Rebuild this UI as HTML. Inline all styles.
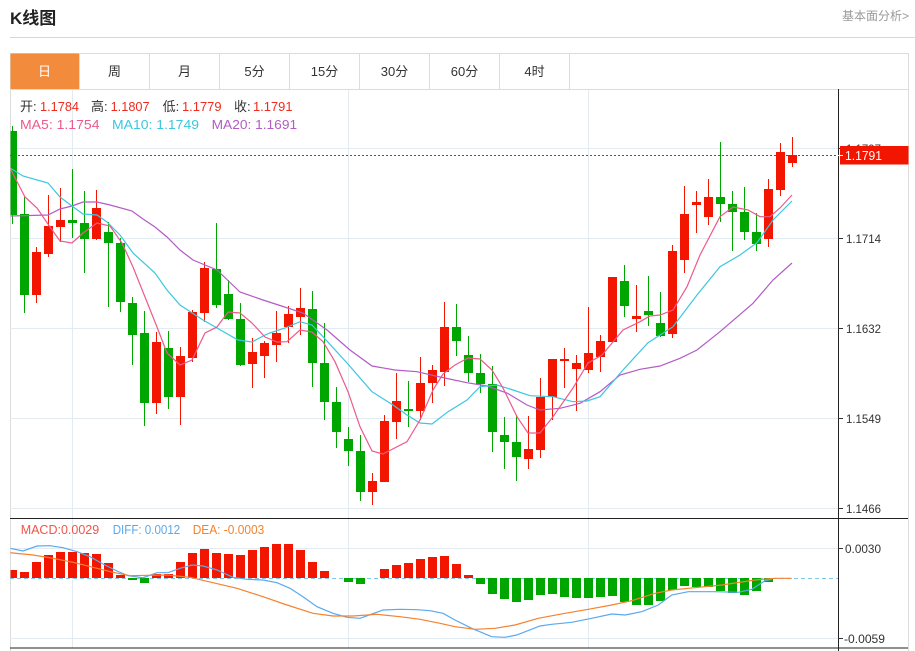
<!DOCTYPE html>
<html><head><meta charset="utf-8"><style>
html,body{margin:0;padding:0;background:#fff;width:915px;height:651px;overflow:hidden}
svg{display:block}
text{font-family:"Liberation Sans","Noto Sans CJK SC",sans-serif}
</style></head><body>
<svg width="915" height="651" viewBox="0 0 915 651" xmlns="http://www.w3.org/2000/svg">
<defs><clipPath id="cm"><rect x="10.5" y="90" width="828" height="428"/></clipPath>
<clipPath id="cd"><rect x="10.5" y="519" width="828" height="129"/></clipPath></defs>
<rect width="915" height="651" fill="#fff"/>
<!-- header -->
<text x="10" y="24" font-size="17" font-weight="bold" fill="#222">K线图</text>
<text x="842" y="20" font-size="12" fill="#999" textLength="67" lengthAdjust="spacingAndGlyphs">基本面分析&gt;</text>
<line x1="10" y1="37.5" x2="915" y2="37.5" stroke="#d8d8d8" stroke-width="1"/>
<!-- container -->
<rect x="10.5" y="53.5" width="898" height="620" fill="none" stroke="#dcdcdc"/>
<rect x="10.5" y="53.5" width="69" height="36" fill="#f28c3c"/>
<line x1="10" y1="89.5" x2="908" y2="89.5" stroke="#dcdcdc"/>
<g stroke="#dcdcdc"><line x1="79.5" y1="53" x2="79.5" y2="89"/><line x1="149.5" y1="53" x2="149.5" y2="89"/><line x1="219.5" y1="53" x2="219.5" y2="89"/><line x1="289.5" y1="53" x2="289.5" y2="89"/><line x1="359.5" y1="53" x2="359.5" y2="89"/><line x1="429.5" y1="53" x2="429.5" y2="89"/><line x1="499.5" y1="53" x2="499.5" y2="89"/><line x1="569.5" y1="53" x2="569.5" y2="89"/></g>
<g font-size="13" fill="#333" text-anchor="middle">
<text x="44.5" y="76" fill="#fff">日</text><text x="114.5" y="76">周</text><text x="184.5" y="76">月</text><text x="254.5" y="76">5分</text><text x="324.5" y="76">15分</text><text x="394.5" y="76">30分</text><text x="464.5" y="76">60分</text><text x="534.5" y="76">4时</text></g>
<!-- grid -->
<g stroke="#e3ebf2" stroke-width="1">
<line x1="10" y1="148.5" x2="838" y2="148.5"/><line x1="10" y1="238.5" x2="838" y2="238.5"/><line x1="10" y1="328.5" x2="838" y2="328.5"/><line x1="10" y1="418.5" x2="838" y2="418.5"/><line x1="10" y1="508.5" x2="838" y2="508.5"/>
<line x1="10" y1="548.5" x2="838" y2="548.5"/><line x1="10" y1="638.5" x2="838" y2="638.5"/>
<line x1="72.5" y1="90" x2="72.5" y2="648"/><line x1="348.5" y1="90" x2="348.5" y2="648"/><line x1="588.5" y1="90" x2="588.5" y2="648"/>
</g>
<!-- legend -->
<g font-size="13">
<text x="20" y="111" fill="#333">开:</text><text x="40" y="111" fill="#f02b1e" textLength="39" lengthAdjust="spacingAndGlyphs">1.1784</text>
<text x="91" y="111" fill="#333">高:</text><text x="110.6" y="111" fill="#f02b1e" textLength="39" lengthAdjust="spacingAndGlyphs">1.1807</text>
<text x="162.6" y="111" fill="#333">低:</text><text x="182" y="111" fill="#f02b1e" textLength="39.5" lengthAdjust="spacingAndGlyphs">1.1779</text>
<text x="234" y="111" fill="#333">收:</text><text x="253" y="111" fill="#f02b1e" textLength="39.5" lengthAdjust="spacingAndGlyphs">1.1791</text>
<text x="20" y="129" fill="#ec5a8b" textLength="79.5" lengthAdjust="spacingAndGlyphs">MA5: 1.1754</text>
<text x="112" y="129" fill="#3cc6e0" textLength="87" lengthAdjust="spacingAndGlyphs">MA10: 1.1749</text>
<text x="211.6" y="129" fill="#b35bc6" textLength="85.5" lengthAdjust="spacingAndGlyphs">MA20: 1.1691</text>
</g>
<!-- price line -->
<line x1="10" y1="155.5" x2="838" y2="155.5" stroke="#f21600" stroke-width="1" stroke-dasharray="2,2"/>
<g clip-path="url(#cm)">
<path fill="none" stroke="#00a600" stroke-width="1" d="M12.5 126V224M24.5 197V313M72.5 169V238M84.5 191V273M108.5 222V307M120.5 238V312M132.5 297V365M144.5 311V426M168.5 331V409M216.5 223V308M228.5 280V320M240.5 303V366M312.5 291V387M324.5 323V420M336.5 387V448M348.5 427V466M360.5 435V501M408.5 381V427M456.5 304V356M468.5 336V382M480.5 354V393M492.5 366V452M504.5 417V469M516.5 415V481M624.5 265V317M648.5 276V326M660.5 292V337M720.5 142V222M732.5 191V251M744.5 187V240M756.5 213V251"/>
<path fill="#00a600" d="M8 131h9v84h-9zM20 214h9v81h-9zM68 220h9v3h-9zM80 223h9v16h-9zM104 232h9v11h-9zM116 243h9v59h-9zM128 303h9v32h-9zM140 333h9v70h-9zM164 348h9v49h-9zM212 269h9v36h-9zM224 294h9v25h-9zM236 319h9v46h-9zM308 309h9v54h-9zM320 363h9v39h-9zM332 402h9v30h-9zM344 439h9v12h-9zM356 451h9v41h-9zM404 409h9v2h-9zM452 327h9v14h-9zM464 355h9v18h-9zM476 373h9v11h-9zM488 384h9v48h-9zM500 435h9v7h-9zM512 442h9v15h-9zM620 281h9v25h-9zM644 311h9v4h-9zM656 323h9v13h-9zM716 197h9v7h-9zM728 204h9v8h-9zM740 212h9v20h-9zM752 232h9v12h-9z"/>
<path fill="none" stroke="#f21600" stroke-width="1" d="M36.5 247V303M48.5 195V257M60.5 188V242M96.5 190V240M156.5 332V414M180.5 347V425M192.5 310V362M204.5 262V322M252.5 338V388M264.5 341V378M276.5 311V362M288.5 306V343M300.5 288V335M372.5 473V505M384.5 415V482M396.5 373V439M420.5 357V420M432.5 365V403M444.5 302V386M528.5 416V469M540.5 378V458M552.5 359V420M564.5 348V388M576.5 355V411M588.5 307V373M600.5 335V372M612.5 277V342M636.5 285V332M672.5 245V338M684.5 186V273M696.5 191V233M708.5 179V225M768.5 179V247M780.5 143V196M792.5 137V167"/>
<path fill="#f21600" d="M32 252h9v43h-9zM44 226h9v28h-9zM56 220h9v7h-9zM92 208h9v31h-9zM152 342h9v61h-9zM176 356h9v41h-9zM188 312h9v46h-9zM200 268h9v45h-9zM248 352h9v12h-9zM260 343h9v13h-9zM272 333h9v12h-9zM284 314h9v13h-9zM296 308h9v9h-9zM368 481h9v11h-9zM380 421h9v61h-9zM392 401h9v21h-9zM416 383h9v28h-9zM428 370h9v13h-9zM440 327h9v45h-9zM524 449h9v10h-9zM536 397h9v53h-9zM548 359h9v38h-9zM560 359h9v2h-9zM572 363h9v6h-9zM584 353h9v17h-9zM596 341h9v16h-9zM608 277h9v65h-9zM632 316h9v3h-9zM668 251h9v83h-9zM680 214h9v46h-9zM692 202h9v3h-9zM704 197h9v20h-9zM764 189h9v50h-9zM776 152h9v38h-9zM788 155h9v8h-9z"/>
<polyline fill="none" stroke="#b35bc6" stroke-width="1.2" points="10,216 48,215 60,209 72,206 83,202 97,202 110,205 132,211 143,219 155,227 167,237 180,250 193,260 217,270 240,292 263,300 280,305.5 303,313 327,330 350,350 372,366 395,370 417,371.7 440,377 467,382.7 487,386 507,393 527,405 540,410 560,408.3 580,403.3 600,391.7 620,375 640,369.3 660,366 680,358.3 697,350 720,331.7 753,303.3 773,280 792,263"/>
<polyline fill="none" stroke="#3cc6e0" stroke-width="1.2" points="10,168 23,176 48,183 60,197 72,206 83,214 97,215 107,222 120,235 133,253 155,273 167,290 180,305 203,320 217,328 238,340 252,342 265,335 270,333 285,328 300,321.7 312,325 323,336.7 347,363 372,391.7 393,405 407,415 420,423 432,424 448,411.7 467,400 480,386.7 497,385 513,390 530,395.7 553,396.7 573,401.7 587,401 600,396.7 623,370 648,342.7 673,326.7 697,295 720,266.7 740,255 757,242.7 773,220 792,201"/>
<polyline fill="none" stroke="#ec5a8b" stroke-width="1.2" points="10,168 25,197 37,208 50,227 60,241 72,243 83,233 97,223 110,226 122,243 133,267 145,297 157,327 167,353 180,365 192,360 205,333 217,327 228,312 240,313 252,323 265,337 277,342 287,341.7 300,330 312,332 323,341.7 335,361.7 348,391.7 360,426.7 372,451 383,454 407,441.7 420,420 433,390 443,374 455,365 468,358 480,359 492,370 503,388 517,416.7 528,433 540,433 553,416.7 573,388 588,363 602,355 623,330 640,321.7 650,316 660,315 673,310 687,286.7 700,255 720,216.7 733,207 748,210 760,216.7 770,216.7 780,208 792,195"/>
</g>
<!-- MACD -->
<line x1="10" y1="578.5" x2="838" y2="578.5" stroke="#7fc8ea" stroke-width="1" stroke-dasharray="4,3"/>
<g clip-path="url(#cd)">
<path fill="#f21600" d="M8 570h9v8h-9zM20 572h9v6h-9zM32 562h9v16h-9zM44 555h9v23h-9zM56 552h9v26h-9zM68 552h9v26h-9zM80 553h9v25h-9zM92 554h9v24h-9zM104 563h9v15h-9zM116 575h9v3h-9zM152 574h9v4h-9zM164 574h9v4h-9zM176 562h9v16h-9zM188 553h9v25h-9zM200 549h9v29h-9zM212 553h9v25h-9zM224 554h9v24h-9zM236 555h9v23h-9zM248 550h9v28h-9zM260 547h9v31h-9zM272 544h9v34h-9zM284 544h9v34h-9zM296 550h9v28h-9zM308 562h9v16h-9zM320 571h9v7h-9zM380 569h9v9h-9zM392 565h9v13h-9zM404 563h9v15h-9zM416 559h9v19h-9zM428 557h9v21h-9zM440 556h9v22h-9zM452 564h9v14h-9zM464 575h9v3h-9z"/>
<path fill="#00a600" d="M128 578h9v2h-9zM140 578h9v5h-9zM344 578h9v4h-9zM356 578h9v6h-9zM476 578h9v6h-9zM488 578h9v16h-9zM500 578h9v21h-9zM512 578h9v24h-9zM524 578h9v22h-9zM536 578h9v17h-9zM548 578h9v16h-9zM560 578h9v19h-9zM572 578h9v20h-9zM584 578h9v20h-9zM596 578h9v19h-9zM608 578h9v18h-9zM620 578h9v24h-9zM632 578h9v27h-9zM644 578h9v27h-9zM656 578h9v23h-9zM668 578h9v12h-9zM680 578h9v8h-9zM692 578h9v9h-9zM704 578h9v9h-9zM716 578h9v13h-9zM728 578h9v15h-9zM740 578h9v17h-9zM752 578h9v13h-9zM764 578h9v4h-9z"/>
<polyline fill="none" stroke="#5aa9ee" stroke-width="1.2" points="10,548.3 23,551 37,546 50,545.7 63,547.7 77,551.7 90,556.7 103,564 117,571 128,575.7 143,577.7 157,572.7 168,572.7 180,568.3 192,565 203,566 217,570 233,577.3 247,579.3 263,580 277,582.7 290,588.3 303,596.7 317,606.7 333,613.3 347,617.3 360,618.3 372,614 383,610 400,609.3 417,609.7 430,610.7 443,613.3 455,620 471.7,628.3 491.7,636.7 505,637.3 516.7,635 540,626 551.7,624.3 571.7,622.3 591.7,618.3 611.7,614 625,615 641.7,611.7 658.3,605 671.7,595 688.3,591.7 715,591.7 738.3,592.3 751.7,589.3 765,580.7 771.7,579.3"/>
<polyline fill="none" stroke="#f5822e" stroke-width="1.2" points="10,552.7 33,555 53,558.3 73,562.3 93,567.3 113,572.3 130,575.7 147,575.3 167,575 190,577.3 213,582.7 237,588.3 263,596.7 287,605 313,613.3 333,616 353,616 377,614.3 400,616.7 420,619.3 440,623.3 455,626.7 475,629.3 495,628.3 515,625 538.3,618.3 565,613.3 588.3,609.3 611.7,605 631.7,600.7 655,593.3 671.7,590 688.3,588.3 721.7,585 755,580 775,578.3 791.7,578.3"/>
</g>
<g font-size="13">
<text x="20.7" y="534" fill="#f0564a" textLength="78.5" lengthAdjust="spacingAndGlyphs">MACD:0.0029</text>
<text x="112.7" y="534" fill="#5aa9ee" textLength="67.5" lengthAdjust="spacingAndGlyphs">DIFF: 0.0012</text>
<text x="192.7" y="534" fill="#f5822e" textLength="71.5" lengthAdjust="spacingAndGlyphs">DEA: -0.0003</text>
</g>
<!-- frame lines -->
<line x1="10" y1="518.5" x2="908" y2="518.5" stroke="#222" stroke-width="1"/>
<line x1="10" y1="648" x2="908" y2="648" stroke="#222" stroke-width="1"/>
<line x1="838.5" y1="89" x2="838.5" y2="651" stroke="#222" stroke-width="1"/>
<!-- axis ticks and labels -->
<g stroke="#333" stroke-width="1">
<line x1="838" y1="148.5" x2="843" y2="148.5"/><line x1="838" y1="238.5" x2="843" y2="238.5"/><line x1="838" y1="328.5" x2="843" y2="328.5"/><line x1="838" y1="418.5" x2="843" y2="418.5"/><line x1="838" y1="508.5" x2="843" y2="508.5"/><line x1="838" y1="548.5" x2="843" y2="548.5"/><line x1="838" y1="638.5" x2="843" y2="638.5"/>
</g>
<g font-size="12" fill="#333">
<text x="846" y="153" textLength="35" lengthAdjust="spacingAndGlyphs">1.1797</text>
<text x="846" y="243" textLength="35" lengthAdjust="spacingAndGlyphs">1.1714</text>
<text x="846" y="333" textLength="35" lengthAdjust="spacingAndGlyphs">1.1632</text>
<text x="846" y="423" textLength="35" lengthAdjust="spacingAndGlyphs">1.1549</text>
<text x="846" y="513" textLength="35" lengthAdjust="spacingAndGlyphs">1.1466</text>
<text x="845" y="553" textLength="36" lengthAdjust="spacingAndGlyphs">0.0030</text>
<text x="844" y="643" textLength="41" lengthAdjust="spacingAndGlyphs">-0.0059</text>
</g>
<rect x="840" y="146" width="68.5" height="18.5" fill="#f21600"/>
<line x1="838" y1="155.5" x2="843" y2="155.5" stroke="#fff" stroke-width="1"/>
<text x="845" y="160" font-size="13" fill="#fff" textLength="37" lengthAdjust="spacingAndGlyphs">1.1791</text>
</svg>
</body></html>
